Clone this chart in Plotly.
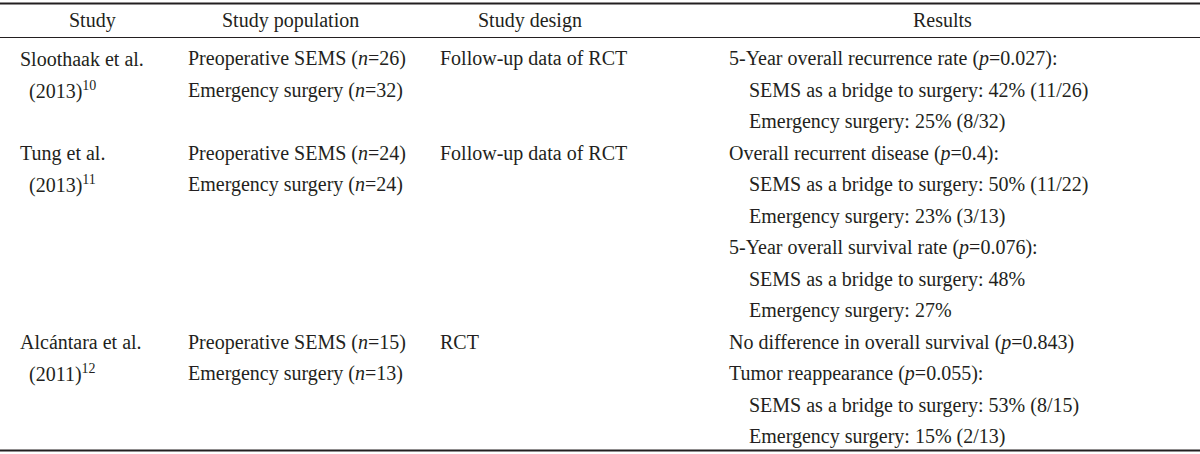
import plotly.graph_objects as go

# ---- data ----
headers = ["Study", "Study population", "Study design", "Results"]

studies = [
    ["Sloothaak et al.", "(2013)<sup>10</sup>"],
    ["Tung et al.", "(2013)<sup>11</sup>"],
    ["Alcántara et al.", "(2011)<sup>12</sup>"],
]
populations = [
    ["Preoperative SEMS (<i>n</i>=26)", "Emergency surgery (<i>n</i>=32)"],
    ["Preoperative SEMS (<i>n</i>=24)", "Emergency surgery (<i>n</i>=24)"],
    ["Preoperative SEMS (<i>n</i>=15)", "Emergency surgery (<i>n</i>=13)"],
]
designs = ["Follow-up data of RCT", "Follow-up data of RCT", "RCT"]
results = [
    ["5-Year overall recurrence rate (<i>p</i>=0.027):",
     "SEMS as a bridge to surgery: 42% (11/26)",
     "Emergency surgery: 25% (8/32)"],
    ["Overall recurrent disease (<i>p</i>=0.4):",
     "SEMS as a bridge to surgery: 50% (11/22)",
     "Emergency surgery: 23% (3/13)",
     "5-Year overall survival rate (<i>p</i>=0.076):",
     "SEMS as a bridge to surgery: 48%",
     "Emergency surgery: 27%"],
    ["No difference in overall survival (<i>p</i>=0.843)",
     "Tumor reappearance (<i>p</i>=0.055):",
     "SEMS as a bridge to surgery: 53% (8/15)",
     "Emergency surgery: 15% (2/13)"],
]
result_levels = [
    [0, 1, 1],
    [0, 1, 1, 0, 1, 1],
    [0, 0, 1, 1],
]

# ---- layout constants ----
W, H = 1200, 454
FONT = dict(family="Liberation Serif, Times New Roman, serif", size=20, color="#231f20")
header_x = [92, 290, 530, 942]
col_x = [18, 186, 438, 727]
sub_indent = [9, 0, 0, 20]
header_y = 20
y0 = 58.5
step = 31.5

fig = go.Figure()
fig.add_trace(go.Scatter(x=[0, W], y=[0, H], mode="markers",
                         marker=dict(opacity=0), hoverinfo="skip", showlegend=False))

ann = []
def add(text, x, y, anchor="left"):
    ann.append(dict(text=text, x=x, y=y, xref="x", yref="y", showarrow=False,
                    xanchor=anchor, yanchor="middle", font=FONT, align="left"))

for h, hx in zip(headers, header_x):
    add(h, hx, header_y, "center")

line = 0
for i in range(len(studies)):
    for k, t in enumerate(studies[i]):
        add(t, col_x[0] + (sub_indent[0] if k else 0), y0 + (line + k) * step)
    for k, t in enumerate(populations[i]):
        add(t, col_x[1], y0 + (line + k) * step)
    add(designs[i], col_x[2], y0 + line * step)
    for k, (t, lv) in enumerate(zip(results[i], result_levels[i])):
        add(t, col_x[3] + lv * sub_indent[3], y0 + (line + k) * step)
    line += len(results[i])

shapes = [
    dict(type="line", xref="x", yref="y", x0=0, x1=W, y0=3.5, y1=3.5,
         line=dict(color="#231f20", width=2)),
    dict(type="line", xref="x", yref="y", x0=0, x1=W, y0=37.5, y1=37.5,
         line=dict(color="#231f20", width=1.2)),
    dict(type="line", xref="x", yref="y", x0=0, x1=W, y0=450.5, y1=450.5,
         line=dict(color="#231f20", width=2)),
]

fig.update_layout(
    width=W, height=H, margin=dict(l=0, r=0, t=0, b=0),
    paper_bgcolor="white", plot_bgcolor="white",
    xaxis=dict(range=[0, W], visible=False, fixedrange=True),
    yaxis=dict(range=[H, 0], visible=False, fixedrange=True),
    annotations=ann, shapes=shapes, showlegend=False,
)

fig.write_html("out.html", config={"displayModeBar": False},
               post_script="document.body.style.margin='0';document.body.style.overflow='hidden';")
